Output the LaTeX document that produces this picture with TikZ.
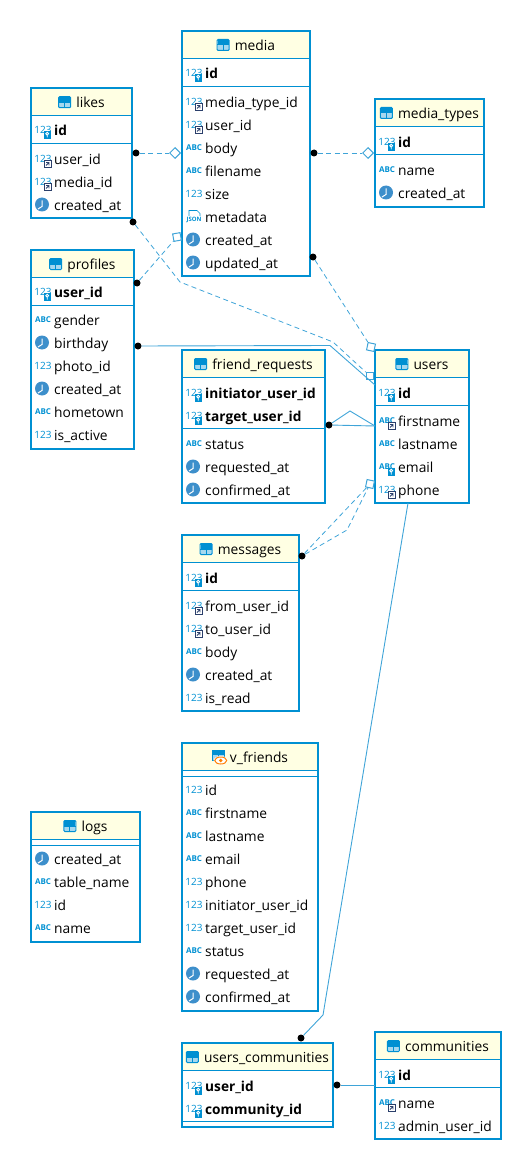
\documentclass[tikz,border=0pt]{standalone}
\usepackage{fontspec}
\setmainfont{Open Sans}
\usetikzlibrary{shapes.geometric}
\catcode`\_=12
\definecolor{tableblue}{HTML}{0090D2}
\definecolor{linkblue}{HTML}{3FA4D8}
\definecolor{headyellow}{HTML}{FFFFE3}
\definecolor{clockblue}{HTML}{3D8FCB}
\definecolor{fkdark}{HTML}{2B3F6B}

\tikzset{
  numicon/.pic={
    \node[inner sep=0, text=tableblue, font=\fontsize{10}{10}\selectfont] at (0,0) {123};
  },
  abcicon/.pic={
    \node[inner sep=0, text=tableblue, font=\fontsize{8}{8}\selectfont\bfseries] at (0,-0.5) {ABC};
  },
  keymark/.pic={
    \fill[tableblue] (0.5,1) rectangle (8,9);
    \draw[white, line width=0.9pt] (4.2,3.7) circle (1.4) (4.2,5.1) -- (4.2,7.5);
  },
  fkmark/.pic={
    \draw[fkdark, fill=white, line width=0.8pt] (1,1.5) rectangle (8,8.5);
    \draw[fkdark, line width=0.8pt] (3,6.5) -- (6,3.5) (3.2,3.5) -- (6,3.5) -- (6,6.3);
  },
  pkicon/.pic={\pic {numicon}; \pic {keymark};},
  fkicon/.pic={\pic {numicon}; \pic {fkmark};},
  abcfkicon/.pic={\pic {abcicon}; \pic {fkmark};},
  abcpkicon/.pic={\pic {abcicon}; \pic {keymark};},
  clockicon/.pic={
    \fill[clockblue] (-1,-0.5) circle (7);
    \draw[white, line width=1pt] (-1,-4.5) -- (-1,1.5) -- (-5,4);
  },
  jsonicon/.pic={
    \draw[tableblue, line width=0.6pt] (-5,-1) -- (-5,-6.5) -- (3,-6.5) -- (6,-3.5) -- (6,-1);
    \node[inner sep=0, text=tableblue, font=\fontsize{6}{6}\selectfont\bfseries] at (0,2.5) {JSON};
  },
  tableicon/.pic={
    \fill[white] (0,-5.5) rectangle (13,5.5);
    \fill[tableblue!35] (1,0) rectangle (12,5);
    \fill[tableblue] (1,-5) rectangle (12,0);
    \draw[tableblue, rounded corners=1pt, line width=1pt] (0.5,-5.5) rectangle (12.5,5.5);
    \draw[tableblue, line width=1pt] (6.5,0) -- (6.5,5.5) (0.5,0) -- (12.5,0);
  },
  viewicon/.pic={
    \fill[tableblue!35] (1,-6) rectangle (12,3);
    \fill[tableblue] (1,-6) rectangle (12,-2);
    \draw[tableblue, line width=1pt] (0.5,-6.5) rectangle (12.5,3.5) (6.5,-2) -- (6.5,3.5);
    \fill[white] (9,3.5) ellipse (7 and 4.5);
    \draw[orange, line width=1pt] (9,3.5) ellipse (6 and 3.5);
    \fill[orange] (9,3.5) circle (1.8);
  },
}

\newcommand{\dbtable}[8]{%
  \fill[headyellow] (#2,#4) rectangle (#3,#6);
  \draw[tableblue, line width=0.9pt] (#2,#6) -- (#3,#6) (#2,#7) -- (#3,#7);
  \node[tablebox, anchor=north west, minimum width=#3pt-#2pt, minimum height=#5pt-#4pt] (#1) at (#2,#4) {};
  \node[titletext, anchor=base] (#1-title) at ({(#2+#3)/2},{(#4+#6)/2+5.8}) {\hspace{18pt}#8};
}

\begin{document}
\begin{tikzpicture}[x=1pt, y=-1pt,
  tablebox/.style = {draw=tableblue, line width=2.4pt, inner sep=0, outer sep=0},
  titletext/.style = {inner sep=0, font=\fontsize{13.8}{16}\selectfont},
  rowtext/.style = {inner sep=0, anchor=base west, font=\fontsize{13.8}{16}\selectfont},
  keytext/.style = {rowtext, font=\fontsize{13.7}{16}\selectfont\bfseries},
  fkline/.style = {draw=linkblue, line width=0.8pt, dash pattern=on 5pt off 3.5pt},
  idline/.style = {draw=linkblue, line width=0.9pt},
  fkdot/.style = {circle, fill=black, inner sep=0, minimum size=7pt},
  fkdiamond/.style = {diamond, draw=linkblue, fill=white, line width=1pt, inner sep=0, minimum size=11pt},
  fksquare/.style = {rectangle, draw=linkblue, fill=white, line width=1pt, inner sep=0, minimum size=7.5pt},
]
  \useasboundingbox (0,0) rectangle (512,1150);

  % tables
  \dbtable{media}{182}{310}{31}{276}{58}{86}{media}
  \dbtable{likes}{31}{132}{88}{218}{115.5}{143}{likes}
  \dbtable{profiles}{31}{134}{250}{449}{277}{305}{profiles}
  \dbtable{mediatypes}{375}{484}{99}{207}{126}{154}{media_types}
  \dbtable{friendreq}{182}{325}{350}{503}{377}{428}{friend_requests}
  \dbtable{users}{375}{469}{350}{503}{377}{405}{users}
  \dbtable{messages}{182}{299}{535}{711}{562}{590}{messages}
  \dbtable{vfriends}{182}{318}{743}{1011}{770}{776}{v_friends}
  \dbtable{logs}{31}{140}{812}{942}{839}{845}{logs}
  \dbtable{userscomm}{182}{333}{1043}{1127}{1070}{1121}{users_communities}
  \dbtable{communities}{375}{501}{1032}{1139}{1059}{1087}{communities}

  \foreach \tab in {media,likes,profiles,mediatypes,friendreq,users,messages,logs,userscomm,communities}
    \pic at ([yshift=5.3pt]\tab-title.base west) {tableicon};
  \pic at ([yshift=5.3pt]vfriends-title.base west) {viewicon};

  % rows of each table: icon / text / y, the x of the icon and of the text
  \foreach \ic/\nm/\y in {pkicon/id/73}
    {\pic at (194,\y) {\ic}; \node[keytext] (media-\nm) at (205,\y+5.5) {\nm};}
  \foreach \ic/\nm/\y in {fkicon/media_type_id/102,fkicon/user_id/125,abcicon/body/148,abcicon/filename/171,numicon/size/194,jsonicon/metadata/217,clockicon/created_at/240,clockicon/updated_at/263}
    {\pic at (194,\y) {\ic}; \node[rowtext] (media-\nm) at (205,\y+5.5) {\nm};}

  \foreach \ic/\nm/\y in {pkicon/id/130}
    {\pic at (43,\y) {\ic}; \node[keytext] (likes-\nm) at (54,\y+5.5) {\nm};}
  \foreach \ic/\nm/\y in {fkicon/user_id/159,fkicon/media_id/182,clockicon/created_at/205}
    {\pic at (43,\y) {\ic}; \node[rowtext] (likes-\nm) at (54,\y+5.5) {\nm};}

  \foreach \ic/\nm/\y in {pkicon/user_id/292}
    {\pic at (43,\y) {\ic}; \node[keytext] (profiles-\nm) at (54,\y+5.5) {\nm};}
  \foreach \ic/\nm/\y in {abcicon/gender/320,clockicon/birthday/343,numicon/photo_id/366,clockicon/created_at/389,abcicon/hometown/412,numicon/is_active/435}
    {\pic at (43,\y) {\ic}; \node[rowtext] (profiles-\nm) at (54,\y+5.5) {\nm};}

  \foreach \ic/\nm/\y in {pkicon/id/142}
    {\pic at (387,\y) {\ic}; \node[keytext] (mediatypes-\nm) at (398,\y+5.5) {\nm};}
  \foreach \ic/\nm/\y in {abcicon/name/170,clockicon/created_at/193}
    {\pic at (387,\y) {\ic}; \node[rowtext] (mediatypes-\nm) at (398,\y+5.5) {\nm};}

  \foreach \ic/\nm/\y in {pkicon/initiator_user_id/393,pkicon/target_user_id/416}
    {\pic at (194,\y) {\ic}; \node[keytext] (friendreq-\nm) at (205,\y+5.5) {\nm};}
  \foreach \ic/\nm/\y in {abcicon/status/444,clockicon/requested_at/467,clockicon/confirmed_at/490}
    {\pic at (194,\y) {\ic}; \node[rowtext] (friendreq-\nm) at (205,\y+5.5) {\nm};}

  \foreach \ic/\nm/\y in {pkicon/id/393}
    {\pic at (387,\y) {\ic}; \node[keytext] (users-\nm) at (398,\y+5.5) {\nm};}
  \foreach \ic/\nm/\y in {abcfkicon/firstname/421,abcicon/lastname/444,abcpkicon/email/467,fkicon/phone/490}
    {\pic at (387,\y) {\ic}; \node[rowtext] (users-\nm) at (398,\y+5.5) {\nm};}

  \foreach \ic/\nm/\y in {pkicon/id/578}
    {\pic at (194,\y) {\ic}; \node[keytext] (messages-\nm) at (205,\y+5.5) {\nm};}
  \foreach \ic/\nm/\y in {fkicon/from_user_id/606,fkicon/to_user_id/629,abcicon/body/652,clockicon/created_at/675,numicon/is_read/698}
    {\pic at (194,\y) {\ic}; \node[rowtext] (messages-\nm) at (205,\y+5.5) {\nm};}

  \foreach \ic/\nm/\y in {numicon/id/790,abcicon/firstname/813,abcicon/lastname/836,abcicon/email/859,numicon/phone/882,numicon/initiator_user_id/905,numicon/target_user_id/928,abcicon/status/951,clockicon/requested_at/974,clockicon/confirmed_at/997}
    {\pic at (194,\y) {\ic}; \node[rowtext] (vfriends-\nm) at (205,\y+5.5) {\nm};}

  \foreach \ic/\nm/\y in {clockicon/created_at/859,abcicon/table_name/882,numicon/id/905,abcicon/name/928}
    {\pic at (43,\y) {\ic}; \node[rowtext] (logs-\nm) at (54,\y+5.5) {\nm};}

  \foreach \ic/\nm/\y in {pkicon/user_id/1086,pkicon/community_id/1109}
    {\pic at (194,\y) {\ic}; \node[keytext] (userscomm-\nm) at (205,\y+5.5) {\nm};}

  \foreach \ic/\nm/\y in {pkicon/id/1075}
    {\pic at (387,\y) {\ic}; \node[keytext] (communities-\nm) at (398,\y+5.5) {\nm};}
  \foreach \ic/\nm/\y in {abcfkicon/name/1103,numicon/admin_user_id/1126}
    {\pic at (387,\y) {\ic}; \node[rowtext] (communities-\nm) at (398,\y+5.5) {\nm};}

  % connector ends
  \node[fkdot] (likes-d1) at (136,153) {};
  \node[fkdiamond] (media-e1) at (175,153) {};
  \node[fkdot] (media-d1) at (314,153) {};
  \node[fkdiamond] (mediatypes-e1) at (368,153) {};
  \node[fkdot] (likes-d2) at (133,222) {};
  \node[fksquare] (users-e1) at (370,376) {};
  \node[fkdot] (profiles-d1) at (137,283) {};
  \node[fksquare, rotate=10] (media-e2) at (177,237) {};
  \node[fkdot] (media-d2) at (313,257) {};
  \node[fksquare, rotate=-12] (users-e2) at (371,347) {};
  \node[fkdot] (profiles-d2) at (138,346) {};
  \node[fkdot] (friendreq-d1) at (329,425) {};
  \node[fkdot] (messages-d1) at (302,556) {};
  \node[fksquare, rotate=-12] (users-e3) at (370,484) {};
  \node[fkdot] (userscomm-d1) at (301,1038) {};
  \node[fkdot] (userscomm-d2) at (337,1085) {};

  \coordinate (bend1) at (180,282);
  \coordinate (bend2) at (333,342);
  \coordinate (bend3) at (330,345.5);
  \coordinate (bend4) at (350,411);
  \coordinate (bend5) at (347,530);
  \coordinate (bend6) at (323,1015);
  \coordinate (users-w1) at (375,385);
  \coordinate (users-w2) at (375,426);
  \coordinate (users-s1) at (408,503);
  \coordinate (communities-w1) at (375,1085);

  % connectors
  \draw[fkline] (likes-d1) -- (media-e1);
  \draw[fkline] (media-d1) -- (mediatypes-e1);
  \draw[fkline] (likes-d2) -- (bend1) -- (bend2) -- (users-e1);
  \draw[fkline] (profiles-d1) -- (media-e2);
  \draw[fkline] (media-d2) -- (users-e2);
  \draw[fkline] (messages-d1) -- (users-e3);
  \draw[fkline] (messages-d1) -- (bend5) -- (users-e3);
  \draw[idline] (profiles-d2) -- (bend3) -- (users-w1);
  \draw[idline] (friendreq-d1) -- (users-w2);
  \draw[idline] (friendreq-d1) -- (bend4) -- (users-w2);
  \draw[idline] (users-s1) -- (bend6) -- (userscomm-d1);
  \draw[idline] (userscomm-d2) -- (communities-w1);
\end{tikzpicture}
\end{document}
